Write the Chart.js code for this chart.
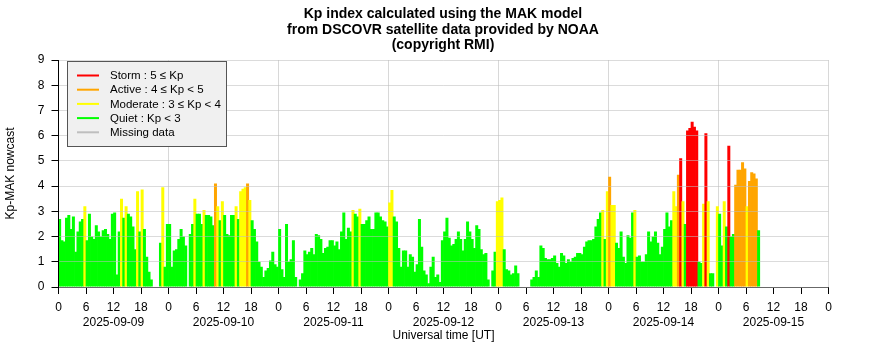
<!DOCTYPE html>
<html><head><meta charset="utf-8">
<script src="https://cdn.jsdelivr.net/npm/chart.js@4.4.0/dist/chart.umd.min.js"></script>
<style>html,body{margin:0;padding:0;background:#fff}#wrap{width:886px;height:360px;position:relative}</style>
</head><body><div id="wrap"><canvas id="c" width="886" height="360"></canvas></div>
<script>
// ---- data (30-minute slots, Kp-MAK nowcast) ----
const dayLabels = ['2025-09-09','2025-09-10','2025-09-11','2025-09-12','2025-09-13','2025-09-14','2025-09-15'];
const kp0909 = [2.7,1.85,1.8,2.75,2.85,2.3,2.8,1.4,2.2,2.6,2.7,3.2,1.85,2.9,2.0,1.9,2.45,2.2,2.0,2.25,2.3,2.1,1.9,2.9,2.95,0.5,2.2,3.5,2.75,3.2,2.9,2.8,2.4,1.5,3.8,2.2,3.87,2.3,1.2,0.6,0.3,0,0,0,1.75,3.95,0.8,2.5];
const kp0910 = [2.5,0.8,1.45,1.5,1.9,2.3,2.0,1.65,0,2.1,2.5,3.5,2.9,2.9,2.5,3.05,2.85,2.85,2.8,2.45,4.1,3.2,2.65,3.4,2.85,2.1,2.05,2.85,2.85,3.2,2.7,3.8,3.9,3.95,4.1,3.45,2.65,2.3,1.8,1.0,0.8,0.4,0.65,0.75,1.05,1.4,0.9,0.8];
const kp0911 = [2.3,0.7,0.4,2.5,1.0,1.1,1.85,0.4,0,0.3,0.55,1.45,1.3,1.4,1.55,1.3,2.1,2.05,1.9,1.35,1.55,1.6,1.85,1.85,1.65,1.8,1.5,2.2,2.95,1.9,2.35,2.2,3.05,2.9,2.8,3.1,2.5,2.5,2.65,2.8,2.3,2.3,2.95,2.95,2.8,2.65,2.6,2.4];
const kp0912 = [3.35,3.85,2.8,2.6,1.55,0.8,1.45,1.45,0.8,1.3,1.2,0.6,0.9,2.7,1.6,0.65,0.5,0.15,0.8,1.2,0.4,0.5,0.2,1.85,2.2,2.75,1.95,1.65,1.7,1.9,2.2,1.9,1.45,1.9,2.6,2.2,1.9,1.55,2.45,2.3,1.5,1.3,1.35,0.3,0,0.65,1.4,3.4];
const kp0913 = [3.45,3.55,1.5,0.7,0.65,0.5,0.55,0.85,0.55,0,0,0,0,0,0.3,0.4,0.65,0.4,1.65,1.55,1.15,1.1,1.1,1.15,1.25,0.95,0.8,1.35,1.25,0.95,1.1,1.0,1.15,1.2,1.35,1.35,1.3,1.6,1.8,1.85,1.85,1.9,2.4,2.7,2.95,3.05,1.9,3.8];
const kp0914 = [4.37,3.25,3.25,1.75,1.55,2.2,1.2,0.95,2.05,1.95,2.95,3.05,1.2,1.25,1.0,1.0,1.3,2.2,1.8,2.0,2.2,1.75,1.3,1.6,2.3,2.95,2.4,2.65,3.8,3.2,4.45,5.1,3.4,2.5,6.2,6.3,6.55,6.35,6.2,1.0,0.95,3.3,6.1,3.4,0.55,0.55,0,3.2];
const kp0915 = [2.9,1.65,3.4,2.4,5.6,2.0,2.1,4.05,4.65,4.65,4.95,4.7,3.2,4.2,4.55,4.5,4.3,2.25];
const dayValues = [kp0909,kp0910,kp0911,kp0912,kp0913,kp0914,kp0915];
const slotHours = 0.5;
const tickStepHours = 6;
const legendLabels = ['Storm : 5 \u2264 Kp','Active : 4 \u2264 Kp < 5','Moderate : 3 \u2264 Kp < 4','Quiet : Kp < 3','Missing data'];
const legendColors = ['#ff0000','#ffa500','#ffff00','#00ff00','#bebebe'];
const titleLines = ['Kp index calculated using the MAK model','from DSCOVR satellite data provided by NOAA','(copyright RMI)'];

const FONT = "'Liberation Sans', Arial, Helvetica, sans-serif";
function kpColor(v){
  if (v >= 5) return legendColors[0];
  if (v >= 4) return legendColors[1];
  if (v >= 3) return legendColors[2];
  return legendColors[3];
}
const points = [];
dayValues.forEach((arr,d)=>arr.forEach((v,i)=>points.push({x: d*24 + i*slotHours + slotHours/2, y: v})));

const legendPlugin = {
  id: 'kpLegend',
  afterDraw(chart){
    const ctx = chart.ctx;
    ctx.save();
    ctx.fillStyle = '#f0f0f0';
    ctx.fillRect(67, 61, 160, 86);
    ctx.strokeStyle = '#555';
    ctx.lineWidth = 1;
    ctx.strokeRect(67.5, 61.5, 159, 85);
    ctx.font = '11.5px ' + FONT;
    ctx.textBaseline = 'middle';
    legendLabels.forEach((t,k)=>{
      const y = 75.5 + k*14.2;
      ctx.strokeStyle = legendColors[k];
      ctx.lineWidth = 2;
      ctx.beginPath(); ctx.moveTo(77, y); ctx.lineTo(99, y); ctx.stroke();
      ctx.fillStyle = '#000';
      ctx.fillText(t, 110, y + 0.5);
    });
    ctx.restore();
  }
};

new Chart(document.getElementById('c'), {
  type: 'bar',
  data: { datasets: [{
    data: points,
    backgroundColor: c => kpColor(c.raw ? c.raw.y : 0),
    borderWidth: 0,
    barThickness: 3,
    inflateAmount: 0,
    grouped: false
  }]},
  options: {
    responsive: false,
    animation: false,
    devicePixelRatio: 1,
    layout: { padding: { left: 0, right: 0, top: 0, bottom: 16.8 } },
    plugins: {
      legend: { display: false },
      tooltip: { enabled: false },
      title: {
        display: true, text: titleLines, color: '#000',
        font: { family: FONT, size: 14, weight: 'bold', lineHeight: 1.125 },
        padding: { top: 6.1, bottom: 6.65 }
      }
    },
    scales: {
      x: {
        type: 'linear', min: 0, max: 168, offset: false,
        afterFit: s => { s.height = 56.2; },
        ticks: {
          stepSize: tickStepHours, autoSkip: false, maxRotation: 0, minRotation: 0,
          padding: 6.5, color: '#000',
          font: { family: FONT, size: 12, lineHeight: 1.25 },
          callback: v => {
            const h = ((v % 24) + 24) % 24;
            const d = Math.floor(v / 24);
            return [String(h), (h === 12 && dayLabels[d]) ? dayLabels[d] : ''];
          }
        },
        grid: {
          offset: false,
          color: c => (c.tick && c.tick.value % 24 === 0) ? '#d8d8d8' : 'rgba(0,0,0,0)',
          tickColor: '#000', tickLength: 7, drawTicks: true
        },
        border: { color: '#000', width: 1 },
        title: { display: true, text: 'Universal time [UT]', color: '#000', font: { family: FONT, size: 12, lineHeight: 1.2 }, padding: 0 }
      },
      y: {
        min: 0, max: 9,
        afterFit: s => { s.width = 58.5; },
        ticks: { stepSize: 1, padding: 7, color: '#000', font: { family: FONT, size: 12 } },
        grid: { color: 'rgba(190,190,190,0.55)', z: 1, tickColor: '#000', tickLength: 7 },
        border: { color: '#000', width: 1, z: 2 },
        title: { display: true, text: 'Kp-MAK nowcast', color: '#000', font: { family: FONT, size: 12, lineHeight: 1.2 }, padding: { top: 3, bottom: 0 } }
      },
      yRightSpace: {
        position: 'right', min: 0, max: 9,
        afterFit: s => { s.width = 57.5; },
        ticks: { display: false },
        grid: { display: false, drawTicks: false },
        border: { display: false }
      }
    }
  },
  plugins: [legendPlugin]
});
</script>
</body></html>
